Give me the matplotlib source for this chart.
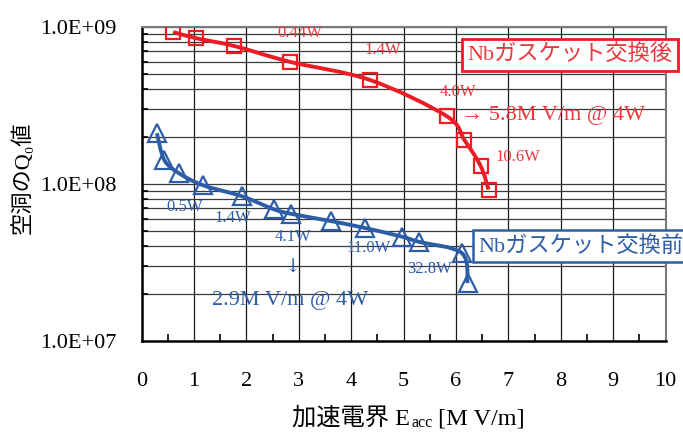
import numpy as np
import matplotlib
matplotlib.use("Agg")
import matplotlib.pyplot as plt
from matplotlib.path import Path
from matplotlib.patches import PathPatch
from matplotlib.ticker import FuncFormatter, LogLocator, MultipleLocator

# after gasket exchange (red squares)
after_e = [0.60, 1.04, 1.76, 2.83, 4.36, 5.82, 6.16, 6.47, 6.62]
after_q = [9.25e8, 8.45e8, 7.55e8, 5.98e8, 4.58e8, 2.70e8, 1.90e8, 1.30e8, 9.2e7]

# before gasket exchange (blue triangles)
before_e = [0.29, 0.43, 0.71, 1.17, 1.91, 2.52, 2.85, 3.61, 4.26, 4.96, 5.29, 6.11, 6.22]
before_q = [2.10e8, 1.42e8, 1.17e8, 9.8e7, 8.35e7, 6.9e7, 6.45e7, 5.8e7, 5.24e7,
            4.62e7, 4.28e7, 3.63e7, 2.34e7]

red_labels = [("0.44W", 0.302, 0.980), ("1.4W", 0.461, 0.926), ("4.0W", 0.604, 0.792),
              ("10.6W", 0.719, 0.585)]
blue_labels = [("0.5W", 0.082, 0.426), ("1.4W", 0.174, 0.391), ("4.1W", 0.288, 0.332),
               ("11.0W", 0.433, 0.296), ("32.8W", 0.550, 0.229)]

RED = "#ed1c24"
RED_T = "#e8383d"
BLUE = "#2e5da8"
FONT = ["Liberation Serif", "Noto Sans CJK JP", "DejaVu Serif"]

plt.rcParams["font.family"] = FONT


def smooth_path(xs, ys):
    # catmull-rom style bezier in (x, log y), like excel's smoothed line
    pts = np.column_stack([xs, np.log10(ys)])
    verts = [pts[0]]
    codes = [Path.MOVETO]
    n = len(pts)
    for i in range(n - 1):
        p0 = pts[max(i - 1, 0)]
        p1 = pts[i]
        p2 = pts[i + 1]
        p3 = pts[min(i + 2, n - 1)]
        c1 = p1 + (p2 - p0) / 6
        c2 = p2 - (p3 - p1) / 6
        verts += [c1, c2, p2]
        codes += [Path.CURVE4] * 3
    verts = np.array(verts)
    verts[:, 1] = 10 ** verts[:, 1]
    return Path(verts, codes)


fig = plt.figure(figsize=(6.83, 4.32), dpi=100)
ax = fig.add_axes([0.2075, 0.2106, 0.767, 0.7275])

ax.set_yscale("log")
ax.set_xlim(0, 10)
ax.set_ylim(1e7, 1e9)

ax.add_patch(PathPatch(smooth_path(after_e, after_q), fill=False, ec=RED, lw=2.8, zorder=3))
ax.plot(after_e, after_q, ls="none", marker="s", ms=10.5, mfc="none", mec=RED, mew=1.6, zorder=4)

ax.add_patch(PathPatch(smooth_path(before_e, before_q), fill=False, ec=BLUE, lw=2.8, zorder=3))
ax.plot(before_e, before_q, ls="none", marker="^", ms=13, mfc="none", mec=BLUE, mew=1.6, zorder=4)

ax.xaxis.set_major_locator(MultipleLocator(1))
ax.xaxis.set_minor_locator(MultipleLocator(0.5))
ax.yaxis.set_major_locator(LogLocator(base=10))
ax.yaxis.set_minor_locator(LogLocator(base=10, subs=np.arange(2, 10)))
ax.yaxis.set_major_formatter(FuncFormatter(lambda v, p: f"{v:.1E}"))
ax.yaxis.set_minor_formatter(FuncFormatter(lambda v, p: ""))

ax.grid(True, which="major", axis="x", color="#1a1a1a", lw=0.9)
ax.grid(True, which="both", axis="y", color="#3a3a3a", lw=0.9)
ax.set_axisbelow(True)

ax.tick_params(axis="both", which="both", direction="in", labelsize=16)
ax.tick_params(axis="x", which="major", length=0, pad=22)
ax.tick_params(axis="x", which="minor", length=5, width=1.2)
ax.tick_params(axis="y", which="major", length=0, pad=18)
ax.tick_params(axis="y", which="minor", length=4, width=1.2)

for s in ["left", "bottom"]:
    ax.spines[s].set_color("black")
    ax.spines[s].set_linewidth(1.8)
for s in ["top", "right"]:
    ax.spines[s].set_color("#7a7a7a")
    ax.spines[s].set_linewidth(1.5)

for txt, x, y in red_labels:
    ax.text(x, y, txt, transform=ax.transAxes, color=RED_T, fontsize=12, ha="center", va="center")
for txt, x, y in blue_labels:
    ax.text(x, y, txt, transform=ax.transAxes, color=BLUE, fontsize=12, ha="center", va="center")

ax.text(0.61, 0.719, "→ 5.8M V/m @ 4W", transform=ax.transAxes, color=RED_T, fontsize=16,
        ha="left", va="center")
ax.text(0.288, 0.232, "↓", transform=ax.transAxes, color=BLUE, fontsize=14,
        ha="center", va="center", family=["DejaVu Serif"])
ax.text(0.134, 0.13, "2.9M V/m @ 4W", transform=ax.transAxes, color=BLUE, fontsize=16,
        ha="left", va="center")

ax.text(0.817, 0.91, "Nbガスケット交換後", transform=ax.transAxes, color=RED_T, fontsize=16,
        ha="center", va="center", zorder=6,
        bbox=dict(boxstyle="square,pad=0.25", fc="white", ec=RED, lw=2))
ax.text(0.838, 0.302, "Nbガスケット交換前", transform=ax.transAxes, color=BLUE, fontsize=16,
        ha="center", va="center", zorder=6,
        bbox=dict(boxstyle="square,pad=0.25", fc="white", ec=BLUE, lw=1.8))

# y label with subscript
fig.text(0.032, 0.588, "空洞のQ₀値", rotation=90, fontsize=16, ha="center", va="center")

# x label pieces: 加速電界 E_acc [M V/m]
t1 = fig.text(0.428, 0.006, "加速電界 E", fontsize=17.5, ha="left", va="bottom")
t2 = ax.annotate("acc", xy=(1, 0), xycoords=t1, xytext=(0.5, -1), textcoords="offset points",
                 fontsize=11.5, ha="left", va="bottom", annotation_clip=False)
ax.annotate(" [M V/m]", xy=(1, 0), xycoords=t2, xytext=(0, 1), textcoords="offset points",
            fontsize=17.5, ha="left", va="bottom", annotation_clip=False)

fig.savefig("out.png", dpi=100)
